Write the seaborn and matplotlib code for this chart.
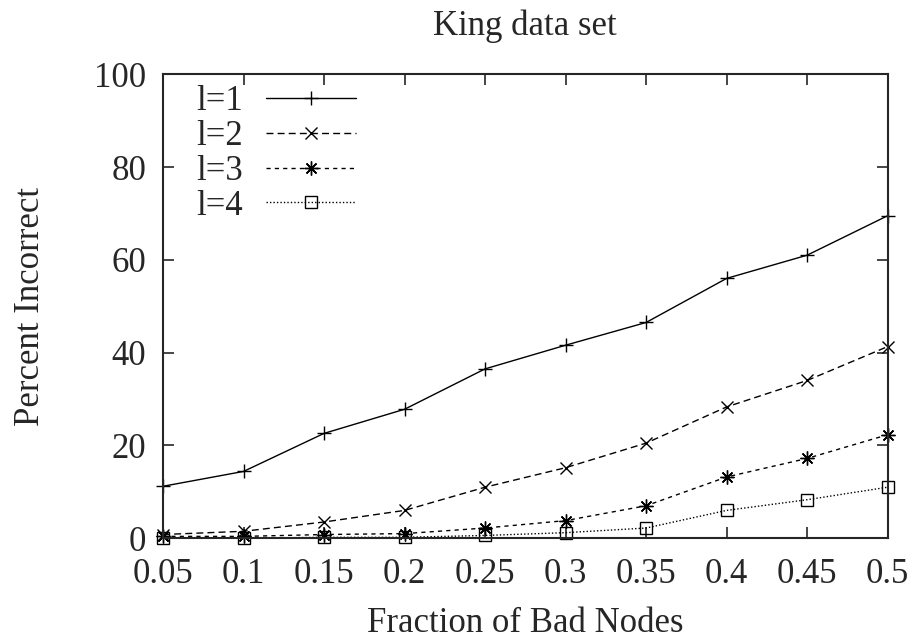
import pandas as pd
import seaborn as sns
import matplotlib.pyplot as plt

# Data
fractions = [0.05, 0.1, 0.15, 0.2, 0.25, 0.3, 0.35, 0.4, 0.45, 0.5]
tick_labels = ["0.05", "0.1", "0.15", "0.2", "0.25", "0.3", "0.35", "0.4", "0.45", "0.5"]
l1 = [11.2, 14.4, 22.6, 27.8, 36.5, 41.6, 46.5, 56.0, 61.0, 69.5]
l2 = [0.8, 1.5, 3.5, 6.0, 11.0, 15.2, 20.5, 28.3, 34.0, 41.3]
l3 = [0.4, 0.4, 0.8, 1.0, 2.2, 3.8, 7.0, 13.2, 17.2, 22.3]
l4 = [0.0, 0.0, 0.2, 0.2, 0.6, 1.2, 2.2, 6.0, 8.3, 11.0]
series_names = ["l=1", "l=2", "l=3", "l=4"]

df = pd.DataFrame({"Fraction": fractions, "l=1": l1, "l=2": l2, "l=3": l3, "l=4": l4})

sns.set_style("ticks")
plt.rcParams['font.family'] = ['Liberation Serif', 'DejaVu Serif']

fs = 25
fig = plt.figure(figsize=(9.16, 6.4), dpi=100)
ax = fig.add_axes([0.178, 0.159, 0.791, 0.725])

styles = {
    "l=1": dict(marker="+", linestyle="-", ms=10),
    "l=2": dict(marker="x", linestyle=(0, (5, 3)), ms=9),
    "l=3": dict(marker=(8, 2, 0), linestyle=(0, (3, 3)), ms=10),
    "l=4": dict(marker="s", linestyle=(0, (1, 1.5)), ms=8, fillstyle="none"),
}

for name in series_names:
    st = styles[name]
    sns.lineplot(data=df, x="Fraction", y=name, ax=ax, color="black", lw=1.0,
                 marker=st["marker"], linestyle=st["linestyle"], markersize=st["ms"],
                 markeredgewidth=1.0, markeredgecolor="black",
                 fillstyle=st.get("fillstyle", "full"), label=name, clip_on=False)

ax.set_xlim(0.05, 0.5)
ax.set_ylim(0, 100)
ax.set_xticks(fractions)
ax.set_xticklabels(tick_labels)
ax.set_yticks([0, 20, 40, 60, 80, 100])
ax.tick_params(direction="in", length=8, width=1.2, top=True, right=True,
               labelsize=fs)
ax.tick_params(axis="x", pad=14)
ax.tick_params(axis="y", pad=12)
for sp in ax.spines.values():
    sp.set_linewidth(1.5)
    sp.set_visible(True)

ax.set_title("King data set", fontsize=fs, pad=28)
ax.set_xlabel("Fraction of Bad Nodes", fontsize=fs, labelpad=12)
ax.set_ylabel("Percent Incorrect", fontsize=fs, labelpad=34)

ax.legend(loc="upper left", frameon=False, markerfirst=False, fontsize=fs,
          handlelength=2.6, handletextpad=0.65, labelspacing=0.05,
          borderaxespad=0.0, borderpad=0.0, bbox_to_anchor=(0.046, 0.976))

fig.savefig("out.png", dpi=100)
